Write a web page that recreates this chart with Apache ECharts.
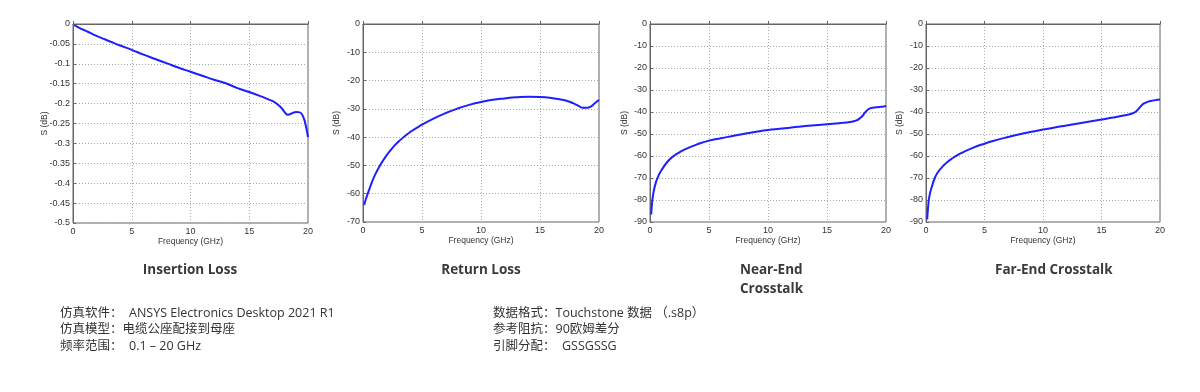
<!DOCTYPE html>
<html><head><meta charset="utf-8">
<script src="https://cdn.jsdelivr.net/npm/echarts@6/dist/echarts.min.js"></script>
<style>html,body{margin:0;padding:0;background:#fff}#c{width:1200px;height:392px}</style>
</head><body><div id="c"></div>
<script>
const freq = [0.1,0.2,0.3,0.5,0.75,1,1.5,2,2.5,3,4,5,6,7,8,9,10,11,12,13,14,15,16,17,17.5,17.8,18,18.3,18.6,19,19.3,19.6,19.8,20];
const insertionLoss = [-0.003,-0.004,-0.006,-0.009,-0.013,-0.016,-0.023,-0.030,-0.036,-0.042,-0.054,-0.065,-0.077,-0.088,-0.099,-0.110,-0.120,-0.130,-0.140,-0.149,-0.161,-0.171,-0.182,-0.194,-0.204,-0.213,-0.221,-0.228,-0.225,-0.221,-0.222,-0.234,-0.254,-0.284];
const returnLoss = [-64,-62.5,-61.2,-58.8,-56,-53.5,-49.6,-46.4,-43.8,-41.6,-38.2,-35.6,-33.4,-31.5,-29.9,-28.6,-27.6,-26.8,-26.3,-25.9,-25.7,-25.8,-26.2,-26.9,-27.5,-28,-28.4,-29,-29.6,-29.6,-29.2,-28.2,-27.5,-26.8];
const nearEnd = [-86.6,-80,-76.5,-72,-68.6,-66.2,-62.5,-60,-58.3,-56.9,-54.7,-53,-51.9,-50.9,-49.9,-49,-48.2,-47.6,-47,-46.5,-46,-45.6,-45.1,-44.5,-43.8,-42.8,-41.8,-39.8,-38.5,-38,-37.8,-37.6,-37.5,-37.3];
const farEnd = [-88.8,-82,-78,-74,-70,-67.5,-64.3,-62,-60.2,-58.7,-56.3,-54.4,-52.8,-51.4,-50.1,-49,-48,-47,-46.1,-45.2,-44.3,-43.4,-42.5,-41.5,-40.9,-40.3,-39.5,-37.8,-36.2,-35.3,-34.9,-34.6,-34.4,-34.3];

const chartTitles = ['Insertion Loss','Return Loss','Near-End\nCrosstalk','Far-End Crosstalk'];
const xAxisName = 'Frequency (GHz)';
const yAxisName = 'S (dB)';
const xTicks = {min:0, max:20, interval:5};
const yRanges = [{min:-0.5,max:0,interval:0.05},{min:-70,max:0,interval:10},{min:-90,max:0,interval:10},{min:-90,max:0,interval:10}];
const infoLeft = '仿真软件：  ANSYS Electronics Desktop 2021 R1\n仿真模型：电缆公座配接到母座\n频率范围：  0.1 – 20 GHz';
const infoRight = '数据格式：Touchstone 数据 （.s8p）\n参考阻抗：90欧姆差分\n引脚分配：  GSSGSSG';

const seriesData = [insertionLoss, returnLoss, nearEnd, farEnd];
const grids = [
  {left:73, top:24, width:235, height:199},
  {left:363, top:24, width:236, height:198},
  {left:650, top:24, width:236, height:198},
  {left:926, top:24, width:234, height:198}
];
const yNameGaps = [24, 22, 21, 22];
const axisFont = {fontFamily:'"Liberation Sans", Arial, sans-serif', fontSize:9, color:'#333'};
const titleFont = '"Open Sans", "Noto Sans CJK SC", sans-serif';
const tStyle = {fontFamily:titleFont,fontSize:13.5,fontWeight:'bold',color:'#3a3a3a',lineHeight:19};
const iStyle = {fontFamily:titleFont,fontSize:12.5,fontWeight:'normal',color:'#333',lineHeight:16.5};

const chart = echarts.init(document.getElementById('c'), null, {renderer:'canvas'});
const option = {
  animation:false,
  backgroundColor:'#fff',
  title: [
    {text:chartTitles[0], left:190, top:261, padding:0, textAlign:'center', textStyle:tStyle},
    {text:chartTitles[1], left:481, top:261, padding:0, textAlign:'center', textStyle:tStyle},
    {text:chartTitles[2], left:740, top:261, padding:0, textStyle:tStyle},
    {text:chartTitles[3], left:995, top:261, padding:0, textStyle:tStyle},
    {text:infoLeft, left:60, top:305, padding:0, textStyle:iStyle},
    {text:infoRight, left:493, top:305, padding:0, textStyle:iStyle}
  ],
  grid: grids.map(g => Object.assign({show:true, borderColor:'#666', borderWidth:1, backgroundColor:'#fff'}, g)),
  xAxis: grids.map((g,i) => ({
    type:'value', gridIndex:i, min:xTicks.min, max:xTicks.max, interval:xTicks.interval,
    name:xAxisName, nameLocation:'middle', nameGap:14, nameMoveOverlap:false,
    nameTextStyle:{fontFamily:axisFont.fontFamily, fontSize:8.5, color:'#333'},
    axisLine:{show:true, lineStyle:{color:'#666', width:1}},
    axisTick:{show:true, inside:true, length:3, lineStyle:{color:'#666'}},
    axisLabel:Object.assign({margin:4}, axisFont),
    splitLine:{show:true, lineStyle:{color:'#aaa', type:[1,2], width:1}}
  })),
  yAxis: grids.map((g,i) => ({
    type:'value', gridIndex:i, min:yRanges[i].min, max:yRanges[i].max, interval:yRanges[i].interval,
    name:yAxisName, nameLocation:'middle', nameGap:yNameGaps[i], nameRotate:90, nameMoveOverlap:false,
    nameTextStyle:{fontFamily:axisFont.fontFamily, fontSize:8.5, color:'#333'},
    axisLine:{show:true, lineStyle:{color:'#666', width:1}},
    axisTick:{show:true, inside:true, length:3, lineStyle:{color:'#666'}},
    axisLabel:Object.assign({margin:3}, axisFont),
    splitLine:{show:true, lineStyle:{color:'#aaa', type:[1,2], width:1}}
  })),
  series: seriesData.map((d,i) => ({
    type:'line', xAxisIndex:i, yAxisIndex:i, showSymbol:false, smooth:0.5,
    data: freq.map((f,k) => [f, d[k]]),
    lineStyle:{color:'#1e1eff', width:2},
    itemStyle:{color:'#1e1eff'}
  }))
};
chart.setOption(option);
</script></body></html>
